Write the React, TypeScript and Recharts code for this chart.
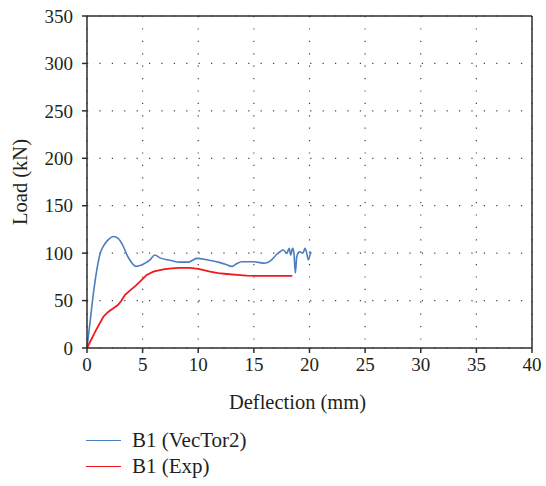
import React from 'react';
import { LineChart, Line, XAxis, YAxis, CartesianGrid, ReferenceLine, Legend, Label } from 'recharts';

const vecTor2Deflection = [0, 0.3, 0.57, 0.85, 1.17, 1.5, 1.9, 2.37, 2.8, 3.27, 3.6, 3.87, 4.15, 4.4, 4.9, 5.3, 5.66, 6.1, 6.56, 7.46, 8.36, 9.1, 9.5, 9.86, 10.76, 11.96, 12.5, 13.0, 13.4, 13.9, 14.95, 15.85, 16.3, 16.6, 17.0, 17.35, 17.65, 17.95, 18.18, 18.3, 18.48, 18.6, 18.73, 18.85, 19.1, 19.4, 19.6, 19.75, 19.9, 20.1];
const vecTor2Load = [0, 30, 57, 80, 99, 108, 114, 117.5, 115.5, 107, 98, 92.5, 88, 86, 87.5, 90, 93, 98, 95, 92.5, 90.5, 90.5, 92.5, 94.5, 93, 90, 88, 86, 88.5, 91, 91, 89.5, 90.5, 93, 98, 101.5, 103.3, 99.8, 105, 98, 105, 100, 79, 96, 101.5, 100, 105, 100, 93, 101.5];

const expDeflection = [0, 0.75, 1.47, 1.9, 2.37, 2.8, 3.1, 3.42, 3.9, 4.31, 4.76, 5.1, 5.37, 5.96, 6.86, 7.6, 8.36, 9.26, 10, 10.5, 11.06, 11.8, 12.56, 13.5, 14.36, 15.3, 16.15, 17.3, 18.45];
const expLoad = [0, 17.5, 33, 38, 42, 45.5, 50, 56, 61, 65, 70, 74, 77, 80.5, 83, 84, 84.5, 84.5, 83.5, 82, 80.5, 79, 78, 77, 76.3, 76, 76, 76, 76];

const xTicks = [0, 5, 10, 15, 20, 25, 30, 35, 40];
const yTicks = [0, 50, 100, 150, 200, 250, 300, 350];

const seriesNames = ['B1 (VecTor2)', 'B1 (Exp)'];
const seriesColors = ['#4a7ebf', '#f0191e'];

const vecTor2Data = vecTor2Deflection.map((x, i) => ({ x, y: vecTor2Load[i] }));
const expData = expDeflection.map((x, i) => ({ x, y: expLoad[i] }));

const FONT = '"Liberation Serif", "DejaVu Serif", serif';
const AXIS = '#2e2e2e';
const TEXT = '#231f20';

const LegendContent = (props: any) => {
  const payload = [...(props.payload || [])].sort(
    (a: any, b: any) => seriesNames.indexOf(a.value) - seriesNames.indexOf(b.value)
  );
  return (
    <div style={{ fontFamily: FONT, fontSize: 21, color: TEXT }}>
      {payload.map((p: any, i: number) => (
        <div key={i} style={{ display: 'flex', alignItems: 'center', height: 26 }}>
          <div style={{ width: 35, height: 0, borderTop: `1.5px solid ${p.color}`, marginRight: 11 }} />
          <span>{p.value}</span>
        </div>
      ))}
    </div>
  );
};

export default function App() {
  return (
    <div style={{ position: 'absolute', left: 0, top: 0, width: 546, height: 486, background: '#fff' }}>
      <LineChart width={546} height={486} margin={{ top: 16, right: 14, left: 0, bottom: 68 }}>
        <CartesianGrid stroke="#444" strokeDasharray="1.2 11.2" strokeWidth={1.2} />
        <XAxis
          type="number"
          dataKey="x"
          domain={[0, 40]}
          ticks={xTicks}
          interval={0}
          height={70}
          stroke={AXIS}
          strokeWidth={1.5}
          tickSize={5}
          tick={{ fill: TEXT, fontSize: 19, fontFamily: FONT }}
          tickMargin={5}
        >
          <Label
            content={(p: any) => {
              const vb = p.viewBox;
              return (
                <text x={vb.x + vb.width / 2 - 12} y={vb.y + 61} textAnchor="middle" fill={TEXT} fontSize={20.5} fontFamily={FONT}>
                  Deflection (mm)
                </text>
              );
            }}
          />
        </XAxis>
        <YAxis
          type="number"
          domain={[0, 350]}
          ticks={yTicks}
          interval={0}
          width={87}
          stroke={AXIS}
          strokeWidth={1.5}
          tickSize={5}
          tick={{ fill: TEXT, fontSize: 19, fontFamily: FONT }}
          tickMargin={9}
        >
          <Label
            content={(p: any) => {
              const vb = p.viewBox;
              const cy = vb.y + vb.height / 2;
              return (
                <text x={27} y={cy} transform={`rotate(-90 27 ${cy})`} textAnchor="middle" fill={TEXT} fontSize={20.5} fontFamily={FONT}>
                  Load (kN)
                </text>
              );
            }}
          />
        </YAxis>
        <ReferenceLine y={350} stroke={AXIS} strokeWidth={1.5} />
        <ReferenceLine x={40} stroke={AXIS} strokeWidth={1.5} />
        <Line data={vecTor2Data} dataKey="y" name={seriesNames[0]} type="monotoneX" stroke={seriesColors[0]} strokeWidth={1.6} dot={false} isAnimationActive={false} />
        <Line data={expData} dataKey="y" name={seriesNames[1]} type="linear" stroke={seriesColors[1]} strokeWidth={1.8} dot={false} isAnimationActive={false} />
        <Legend
          layout="horizontal"
          verticalAlign="middle"
          align="center"
          content={LegendContent}
          wrapperStyle={{ position: 'absolute', left: 86, top: 427, width: 250 }}
        />
      </LineChart>
    </div>
  );
}
